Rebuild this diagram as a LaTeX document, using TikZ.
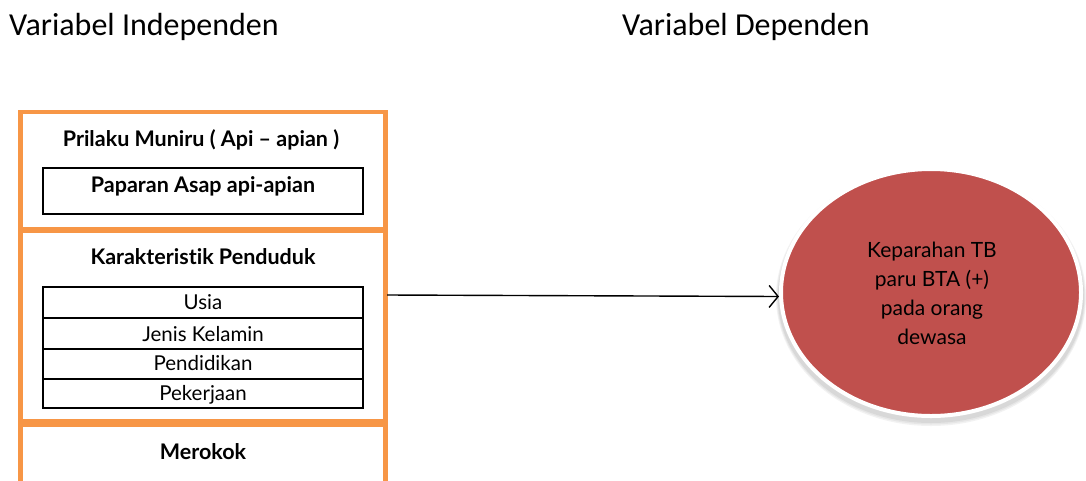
\documentclass[tikz,border=0pt]{standalone}
\usepackage{fontspec}
\setmainfont{Lato}[Ligatures=NoCommon]
\newfontfamily\titlefont{Carlito}
\usetikzlibrary{arrows.meta,shapes.geometric}
\definecolor{boxorange}{HTML}{F79646}
\definecolor{ovalred}{HTML}{C0504D}
\tikzset{
  x=1pt, y=-1pt,
  group/.style={draw=boxorange, line width=4.5pt},
  inner/.style={draw=black, line width=1.6pt},
  head/.style={inner sep=0pt, anchor=base, font=\fontsize{21.5}{25}\selectfont\bfseries},
  item/.style={inner sep=0pt, anchor=base, font=\fontsize{20.5}{24}\selectfont},
  title/.style={inner sep=0pt, anchor=base west, font=\titlefont\fontsize{32}{38}\selectfont},
  arr/.style={line width=1.4pt, -{Straight Barb[length=9pt, width=22pt, line width=1.4pt]}},
}
\begin{document}
\begin{tikzpicture}
\useasboundingbox (0,0) rectangle (1086,480);
\begin{scope}
\clip (0,0) rectangle (1086,480);

% column titles
\node[title] (ttlI) at (9,35) {Variabel Independen};
\node[title] (ttlD) at (622,35) {Variabel Dependen};

% independent variable groups
\draw[group] (20.5,112) rectangle (385.5,229);
\draw[group] (20.5,231) rectangle (385.5,421);
\draw[group] (20.5,425) rectangle (385.5,500);

\node[head] (prilaku) at (201,146.5) {Prilaku Muniru ( Api – apian )};
\draw[inner] (43,168) rectangle (363,214);
\node[head] (paparan) at (203,192) {Paparan Asap api-apian};

\node[head] (karakter) at (203,264) {Karakteristik Penduduk};
\draw[inner] (43,287) rectangle (363,408);
\draw[inner] (43,318) -- (363,318);
\draw[inner] (43,349) -- (363,349);
\draw[inner] (43,379) -- (363,379);
\node[item] (usia) at (203,309) {Usia};
\node[item] (jk) at (203,341) {Jenis Kelamin};
\node[item] (pend) at (203,370) {Pendidikan};
\node[item] (pek) at (203,400) {Pekerjaan};

\node[head] (merokok) at (203,459) {Merokok};

% dependent variable
\foreach \o/\s in {0.05/10, 0.05/7, 0.06/4}
  \fill[black, opacity=\o] (931,297) ellipse ({152+\s*0.3} and {124+\s*0.5});
\node[draw=white, line width=4pt, fill=ovalred, ellipse, minimum width=300pt, minimum height=247pt, inner sep=0pt] (dep) at (931,292.5) {};
\node[item, align=center, font=\fontsize{21}{29}\selectfont, anchor=base] (deptxt) at (932,344)
  {Keparahan TB\\paru BTA (+)\\pada orang\\dewasa};

% influence arrow
\coordinate (src) at (387,295);
\draw[arr] (src) -- ([yshift=-4pt]dep.west);
\end{scope}
\end{tikzpicture}
\end{document}
